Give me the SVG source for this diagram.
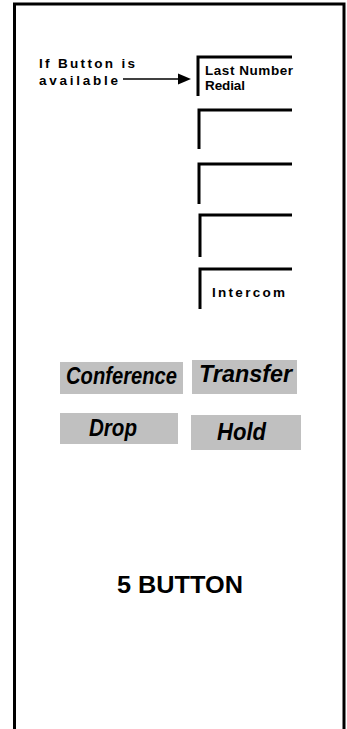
<svg xmlns="http://www.w3.org/2000/svg" width="347" height="729" viewBox="0 0 347 729">
<style>
.frame{fill:none;stroke:#000;stroke-width:3}
.btn{fill:none;stroke:#000;stroke-width:3;stroke-linecap:butt}
.lbl{font-family:"Liberation Sans",Arial,sans-serif;font-weight:bold;font-size:13.5px;fill:#000}
.key{fill:#c0c0c0}
.kt{font-family:"Liberation Sans",Arial,sans-serif;font-weight:bold;font-style:italic;font-size:23px;fill:#000}
.title{font-family:"Liberation Sans",Arial,sans-serif;font-weight:bold;font-size:24px;fill:#000}
.conn{stroke:#000;stroke-width:1.5;fill:none}
</style>
<rect width="347" height="729" fill="#fff"/>
<path class="frame" d="M14.5 729 V4 H344 V729"/>
<g id="note">
<text class="lbl" x="39" y="68" textLength="96" lengthAdjust="spacing">If Button is</text>
<text class="lbl" x="39" y="85" textLength="79" lengthAdjust="spacing">available</text>
</g>
<g id="connectors">
<line class="conn" x1="123" y1="79" x2="180" y2="79"/>
<polygon points="178,73.5 191,79 178,84.5" fill="#000"/>
</g>
<g id="btn1">
<path class="btn" d="M198 96 V57 H292"/>
<text class="lbl" x="205" y="75" textLength="88" lengthAdjust="spacing">Last Number</text>
<text class="lbl" x="205" y="90" textLength="40" lengthAdjust="spacing">Redial</text>
</g>
<g id="btn2"><path class="btn" d="M199 149 V110 H292"/></g>
<g id="btn3"><path class="btn" d="M199 204 V164 H292"/></g>
<g id="btn4"><path class="btn" d="M200 257 V215 H292"/></g>
<g id="btn5">
<path class="btn" d="M200 309 V269 H292"/>
<text class="lbl" x="212" y="297" textLength="73" lengthAdjust="spacing">Intercom</text>
</g>
<g id="conference">
<rect class="key" x="60" y="362" width="123" height="32"/>
<text class="kt" x="66" y="384" textLength="111" lengthAdjust="spacingAndGlyphs">Conference</text>
</g>
<g id="transfer">
<rect class="key" x="192" y="360" width="105" height="34"/>
<text class="kt" x="199" y="382" textLength="93" lengthAdjust="spacingAndGlyphs">Transfer</text>
</g>
<g id="drop">
<rect class="key" x="60" y="413" width="118" height="31"/>
<text class="kt" x="89" y="436" textLength="48" lengthAdjust="spacingAndGlyphs">Drop</text>
</g>
<g id="hold">
<rect class="key" x="191" y="415" width="110" height="35"/>
<text class="kt" x="217" y="440" textLength="49" lengthAdjust="spacingAndGlyphs">Hold</text>
</g>
<g id="title">
<text class="title" x="117" y="593" textLength="126" lengthAdjust="spacingAndGlyphs">5 BUTTON</text>
</g>
</svg>
